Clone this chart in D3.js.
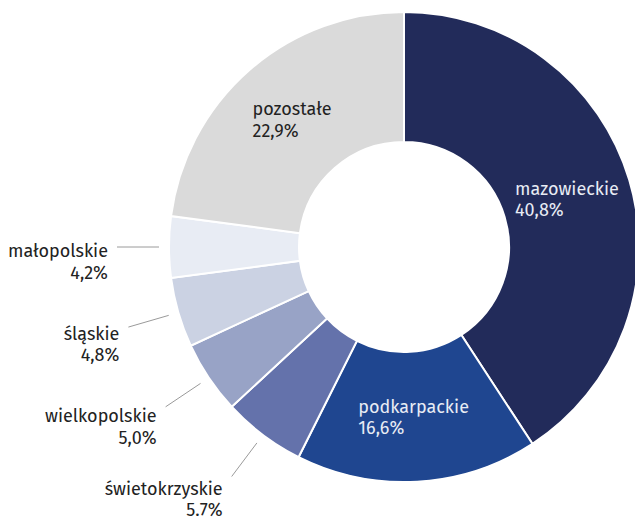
<!DOCTYPE html>
<html>
<head>
<meta charset="utf-8">
<script src="https://cdn.jsdelivr.net/npm/d3@7"></script>
<style>
  html, body { margin: 0; padding: 0; background: #fff; }
  svg { display: block; }
  text { font-family: "Fira Sans", "Open Sans", "Noto Sans", sans-serif; font-size: 18px; }
</style>
</head>
<body>
<svg width="635" height="519"></svg>
<script>
// data
let regions = ['mazowieckie', 'podkarpackie', 'świetokrzyskie', 'wielkopolskie', 'śląskie', 'małopolskie', 'pozostałe'];
let shares = [40.8, 16.6, 5.7, 5.0, 4.8, 4.2, 22.9];
let shareLabels = ['40,8%', '16,6%', '5.7%', '5,0%', '4,8%', '4,2%', '22,9%'];
let colors = ['#222b5a', '#1f4690', '#6472ab', '#98a3c6', '#cbd2e3', '#e8ecf4', '#dadada'];
let inside = [true, true, false, false, false, false, true];

let svg = d3.select('svg');
let cx = 404, cy = 247;
let rIn = 105, rOut = 235;

let rows = regions.map((name, i) => ({
    name: name,
    value: shares[i],
    label: shareLabels[i],
    color: colors[i],
    inside: inside[i]
}));

let pie = d3.pie()
    .sort(null)
    .value(d => d.value);

let arc = d3.arc()
    .innerRadius(rIn)
    .outerRadius(rOut);

let arcs = pie(rows);

let g = svg.append('g')
    .attr('transform', `translate(${cx},${cy})`);

g.selectAll('path')
    .data(arcs)
    .enter().append('path')
    .attr('d', arc)
    .attr('fill', d => d.data.color)
    .attr('stroke', '#fff')
    .attr('stroke-width', 2);

// labels inside the ring: block centred on the centroid, lines left-aligned
let lineH = 21.5;
g.selectAll('g.inner')
    .data(arcs.filter(d => d.data.inside))
    .enter().append('g')
    .attr('class', 'inner')
    .each(function (d) {
        let [x, y] = arc.centroid(d);
        let fill = d.data.color == '#dadada' ? '#222' : '#e8ecf4';
        let t = d3.select(this).append('text')
            .attr('fill', fill);
        t.append('tspan').attr('x', 0).attr('y', 0).text(d.data.name);
        t.append('tspan').attr('x', 0).attr('y', lineH).text(d.data.label);
        let w = t.node().getBBox().width;
        t.attr('transform', `translate(${x - w / 2},${y - 4})`);
    });

// small slices: leader line and right-aligned label outside
let polar = (a, r) => [Math.sin(a) * r, -Math.cos(a) * r];

g.selectAll('g.outer')
    .data(arcs.filter(d => !d.data.inside))
    .enter().append('g')
    .attr('class', 'outer')
    .each(function (d) {
        let a = (d.startAngle + d.endAngle) / 2;
        let p1 = polar(a, rOut + 10);
        let p2 = polar(a, rOut + 52);
        let sel = d3.select(this);
        sel.append('line')
            .attr('x1', p1[0]).attr('y1', p1[1])
            .attr('x2', p2[0]).attr('y2', p2[1])
            .attr('stroke', '#9a9a9a')
            .attr('stroke-width', 1);
        let tx = p2[0] - 9;
        let ty = p2[1] + 10 - 10 * Math.cos(a);
        let t = sel.append('text')
            .attr('fill', '#222')
            .attr('text-anchor', 'end');
        t.append('tspan').attr('x', tx).attr('y', ty).text(d.data.name);
        t.append('tspan').attr('x', tx).attr('y', ty + lineH).text(d.data.label);
    });
</script>
</body>
</html>
